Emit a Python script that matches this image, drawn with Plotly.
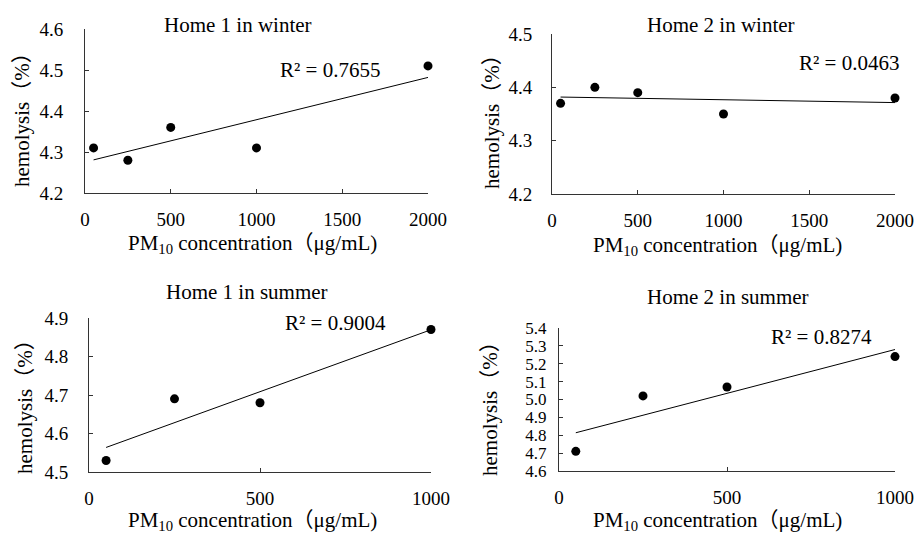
import numpy as np
import plotly.graph_objects as go

# ---- data ----
conc_winter = [50, 250, 500, 1000, 2000]
h1_winter = [4.31, 4.28, 4.36, 4.31, 4.51]
h2_winter = [4.37, 4.40, 4.39, 4.35, 4.38]
conc_summer = [50, 250, 500, 1000]
h1_summer = [4.53, 4.69, 4.68, 4.87]
h2_summer = [4.71, 5.02, 5.07, 5.24]

panel_titles = ["Home 1 in winter", "Home 2 in winter", "Home 1 in summer", "Home 2 in summer"]
r2_labels = ["R² = 0.7655", "R² = 0.0463", "R² = 0.9004", "R² = 0.8274"]
y_ranges = [[4.2, 4.6], [4.2, 4.5], [4.5, 4.9], [4.6, 5.4]]
x_ranges = [[0, 2000], [0, 2000], [0, 1000], [0, 1000]]
x_dticks = [500, 500, 500, 500]
x_title = "PM<sub>10</sub> concentration（μg/mL)"
y_title = "hemolysis（%）"

W, H = 917, 533
FONT = "Liberation Serif, Times New Roman, Noto Sans CJK SC, serif"

series = [(conc_winter, h1_winter), (conc_winter, h2_winter),
          (conc_summer, h1_summer), (conc_summer, h2_summer)]

# panel pixel boxes: (left, right, top, bottom)
boxes = [(85, 428, 29, 193), (552, 895, 34, 194), (89, 431, 318, 472), (559, 895, 328, 471)]
# text pixel positions (centers)
title_pos = [(238, 25), (721, 25), (247, 292), (728, 297)]
r2_pos = [(330, 70), (849, 63), (335, 323), (821, 337)]
xt_pos = [(252, 244), (717, 246), (252, 521), (717, 521)]
yt_pos = [(22, 115), (492, 117), (25, 402), (490, 404)]
ystand = [17, 15, 16, 8]
ytick_size = [19, 19, 19, 17]

def px(x):
    return x / W

def py(y):
    return 1 - y / H

def note(text, pos, angle=0):
    return dict(text=text, x=px(pos[0]), y=py(pos[1]), xref="paper", yref="paper",
                xanchor="center", yanchor="middle", showarrow=False, textangle=angle,
                font=dict(family=FONT, size=21, color="black"))

fig = go.Figure()
annotations = []
for i, (xs, ys) in enumerate(series):
    n = "" if i == 0 else str(i + 1)
    xa, ya = "x" + n, "y" + n
    fig.add_trace(go.Scatter(x=xs, y=ys, mode="markers", xaxis=xa, yaxis=ya,
                             marker=dict(color="black", size=9), cliponaxis=False,
                             showlegend=False))
    k, b = np.polyfit(xs, ys, 1)
    lx = [min(xs), max(xs)]
    fig.add_trace(go.Scatter(x=lx, y=[k * v + b for v in lx], mode="lines",
                             xaxis=xa, yaxis=ya, line=dict(color="black", width=1),
                             cliponaxis=False, showlegend=False))
    l, r, t, bt = boxes[i]
    axis_common = dict(showgrid=False, zeroline=False, showline=True, linecolor="#333",
                       linewidth=1, ticks="inside", ticklen=4, tickcolor="#333",
                       automargin=False)
    fig.update_layout(**{
        ("xaxis" + n): dict(domain=[px(l), px(r)], range=x_ranges[i], dtick=x_dticks[i],
                            tick0=0, anchor=ya, ticklabelstandoff=9,
                            tickfont=dict(family=FONT, size=19, color="black"), **axis_common),
        ("yaxis" + n): dict(domain=[py(bt), py(t)], range=y_ranges[i], dtick=0.1,
                            tick0=y_ranges[i][0], tickformat=".1f", anchor=xa,
                            ticklabelstandoff=ystand[i],
                            tickfont=dict(family=FONT, size=ytick_size[i], color="black"),
                            **axis_common),
    })
    annotations.append(note(panel_titles[i], title_pos[i]))
    annotations.append(note(r2_labels[i], r2_pos[i]))
    annotations.append(note(x_title, xt_pos[i]))
    annotations.append(note(y_title, yt_pos[i], -90))

fig.update_layout(width=W, height=H, autosize=False, margin=dict(l=0, r=0, t=0, b=0, pad=0),
                  paper_bgcolor="white", plot_bgcolor="white",
                  annotations=annotations, font=dict(family=FONT))
fig.write_html("out.html", config={"displayModeBar": False},
               post_script="document.body.style.margin='0';document.body.style.overflow='hidden';")
